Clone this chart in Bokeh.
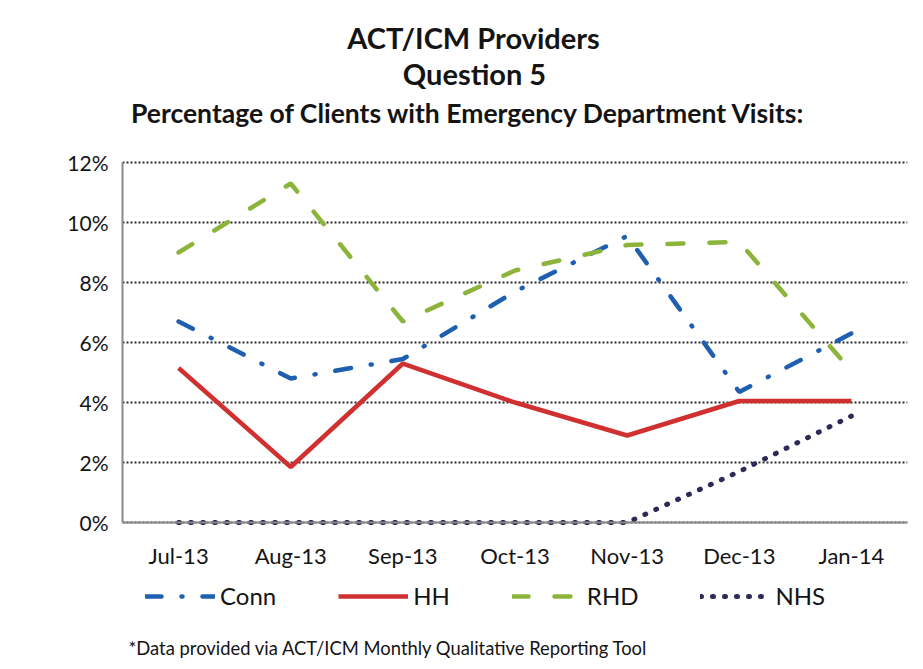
from bokeh.plotting import figure
from bokeh.models import (FactorRange, Range1d, Legend, LegendItem, Label,
                          PrintfTickFormatter, FixedTicker)
from bokeh.embed import file_html
from bokeh.resources import INLINE

months = ["Jul-13", "Aug-13", "Sep-13", "Oct-13", "Nov-13", "Dec-13", "Jan-14"]
conn = [6.7, 4.8, 5.45, 7.7, 9.55, 4.35, 6.3]
hh = [5.15, 1.85, 5.3, 4.0, 2.9, 4.05, 4.05]
rhd = [9.0, 11.3, 6.7, 8.4, 9.25, 9.35, 5.05]
nhs = [0, 0, 0, 0, 0, 1.7, 3.55]
y_ticks = [0, 2, 4, 6, 8, 10, 12]

title1 = "ACT/ICM Providers"
title2 = "Question 5"
title3 = "Percentage of Clients with Emergency Department Visits:"
footnote = "*Data provided via ACT/ICM Monthly Qualitative Reporting Tool"

FONT = "Lato"
INK = "#141414"

# the frame covers the whole canvas (right of the y axis); the chart's value
# area 0..12 % sits inside it, titles / legend / note in the margins of the range
p = figure(x_range=FactorRange(*months, range_padding=0),
           y_range=Range1d(-4.6333, 17.4),
           frame_width=785, frame_height=661, output_backend="svg",
           toolbar_location=None,
           min_border_left=122, min_border_right=8, min_border_top=0,
           min_border_bottom=0)
p.title = None
p.outline_line_color = None
p.background_fill_color = "white"
p.border_fill_color = "white"

p.xgrid.grid_line_color = None
p.ygrid.ticker = FixedTicker(ticks=y_ticks)
p.ygrid.grid_line_color = "#2a2a2a"
p.ygrid.grid_line_dash = "2 2"
p.ygrid.grid_line_width = 2

r_conn = p.line(months, conn, line_color="#1F5FB0", line_width=4.5,
                line_dash="16 20 1 20", line_cap="round")
r_hh = p.line(months, hh, line_color="#D0302F", line_width=4.5)
r_rhd = p.line(months, rhd, line_color="#8CB43A", line_width=4.5,
               line_dash="16 26", line_cap="round")
r_nhs = p.line(months, nhs, line_color="#2B2B55", line_width=5,
               line_dash="1 11", line_cap="round")

p.yaxis.ticker = FixedTicker(ticks=y_ticks)
p.yaxis.bounds = (0, 12)
p.yaxis.formatter = PrintfTickFormatter(format="%d%%")
p.xaxis.fixed_location = 0
for ax in (p.xaxis[0], p.yaxis[0]):
    ax.axis_line_color = "#8a8a8a"
    ax.axis_line_width = 2
    ax.major_tick_line_color = None
    ax.minor_tick_line_color = None
    ax.major_label_text_font = FONT
    ax.major_label_text_color = INK
p.yaxis.major_label_text_font_size = "21px"
p.xaxis.major_label_text_font_size = "22px"
p.yaxis.major_label_standoff = 8
p.xaxis.major_label_standoff = 13

legend = Legend(items=[LegendItem(label="Conn", renderers=[r_conn]),
                       LegendItem(label="HH", renderers=[r_hh]),
                       LegendItem(label="RHD", renderers=[r_rhd]),
                       LegendItem(label="NHS", renderers=[r_nhs])],
                orientation="horizontal", location=(23, 51),
                glyph_width=70, glyph_height=24, label_height=24,
                spacing=62, label_standoff=5,
                label_text_font=FONT, label_text_font_size="24px",
                label_text_color=INK, border_line_color=None,
                background_fill_alpha=0, padding=0, margin=0)
p.add_layout(legend, "center")

def screen_label(text, x, y, size, style="bold", align="center"):
    p.add_layout(Label(x=x, y=y, x_units="screen", y_units="screen", text=text,
                       text_font=FONT, text_font_size=size, text_font_style=style,
                       text_color=INK, text_align=align, text_baseline="middle"))

screen_label(title1, 351, 624, "29px")
screen_label(title2, 352, 588, "29px")
screen_label(title3, 346, 549, "26.5px")
screen_label(footnote, 6, 14, "18.4px", style="normal", align="left")

open("out.html", "w").write(file_html(p, INLINE))
